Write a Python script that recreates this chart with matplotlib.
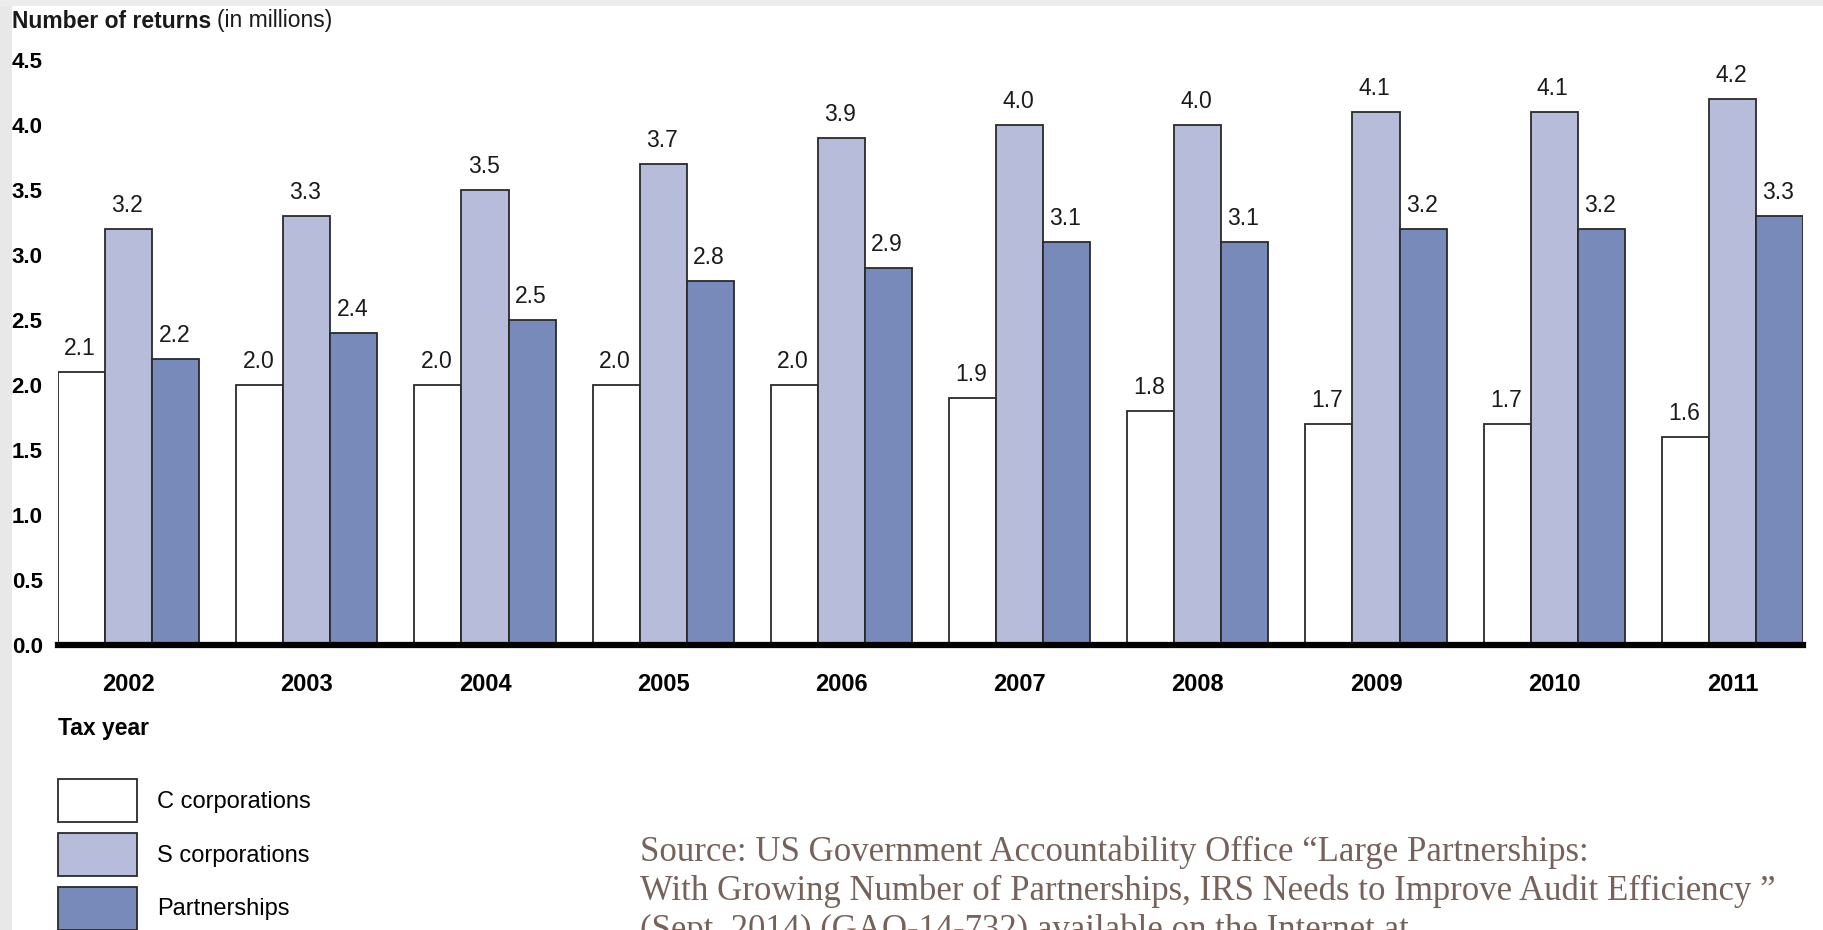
import numpy as np
import matplotlib
matplotlib.use("Agg")
import matplotlib.pyplot as plt
from matplotlib.patches import Rectangle

plt.rcParams['font.family'] = ['Liberation Sans', 'DejaVu Sans']

# data (number of returns, millions)
years = ['2002', '2003', '2004', '2005', '2006', '2007', '2008', '2009', '2010', '2011']
c_corps = [2.1, 2.0, 2.0, 2.0, 2.0, 1.9, 1.8, 1.7, 1.7, 1.6]
s_corps = [3.2, 3.3, 3.5, 3.7, 3.9, 4.0, 4.0, 4.1, 4.1, 4.2]
partnerships = [2.2, 2.4, 2.5, 2.8, 2.9, 3.1, 3.1, 3.2, 3.2, 3.3]
series_names = ['C corporations', 'S corporations', 'Partnerships']
colors = ['#ffffff', '#b8bcdb', '#788aba']

W, H = 1824, 930
fig = plt.figure(figsize=(W / 100, H / 100), dpi=100)

# slide background edges
fig.add_artist(Rectangle((0, 0), 12 / W, 1, transform=fig.transFigure, color='#e8e8e8', lw=0))
fig.add_artist(Rectangle((0, 1 - 6 / H), 1, 6 / H, transform=fig.transFigure, color='#ececec', lw=0))

ax = fig.add_axes([58 / W, 1 - 645 / H, (1803 - 58) / W, (645 - 60) / H])

x = np.arange(len(years))
w = 0.264
bars = []
for i, (vals, col) in enumerate(zip([c_corps, s_corps, partnerships], colors)):
    b = ax.bar(x + (i - 1) * w, vals, w, color=col, edgecolor='#2a2a2a', linewidth=1.3,
               label=series_names[i], zorder=2)
    bars.append(b)
    for xi, v in zip(x + (i - 1) * w, vals):
        ax.annotate('%.1f' % v, (xi, v), xytext=(-1, 9), textcoords='offset points',
                    ha='center', va='bottom', fontsize=16.5, color='#1a1a1a')

ax.axhline(0, color='black', lw=4.5, zorder=3, clip_on=False)
ax.set_xlim(-1.5 * w, len(years) - 1 + 1.5 * w)
ax.set_ylim(0, 4.5)
ax.set_yticks(np.arange(0, 4.51, 0.5))
ax.set_yticklabels(['%.1f' % t for t in np.arange(0, 4.51, 0.5)], fontweight='bold', fontsize=16)
ax.set_xticks(x)
ax.set_xticklabels(years, fontweight='bold', fontsize=17)
ax.tick_params(axis='x', length=0, pad=20)
ax.tick_params(axis='y', length=0, pad=11)
for s in ax.spines.values():
    s.set_visible(False)
ax.patch.set_alpha(0)

# title
t = fig.text(12 / W, 1 - 21 / H, 'Number of returns', fontweight='bold', fontsize=16.5,
             va='center', ha='left', color='#1a1a1a')
ax.annotate('(in millions)', xy=(1, 0.5), xycoords=t, xytext=(4, 0), textcoords='offset points',
            va='center', ha='left', fontsize=16.5, color='#1a1a1a', annotation_clip=False)

fig.text(58 / W, 1 - 729 / H, 'Tax year', fontweight='bold', fontsize=16.5, va='center', ha='left')

leg = fig.legend(handles=bars, labels=series_names, loc='upper left',
                 bbox_to_anchor=(58 / W, 1 - 779 / H), frameon=False, borderpad=0,
                 borderaxespad=0, handlelength=3.35, handleheight=2.4, labelspacing=0.48,
                 handletextpad=0.85, prop={'size': 17})

src_col = '#76625b'
src_lines = ['Source: US Government Accountability Office \u201cLarge Partnerships:',
             'With Growing Number of Partnerships, IRS Needs to Improve Audit Efficiency \u201d',
             '(Sept. 2014) (GAO-14-732) available on the Internet at']
for k, line in enumerate(src_lines):
    fig.text(640 / W, 1 - (852 + 39 * k) / H, line, family=['Liberation Serif', 'DejaVu Serif'],
             fontsize=25, color=src_col, va='center', ha='left')

fig.savefig('out.png', dpi=100)
